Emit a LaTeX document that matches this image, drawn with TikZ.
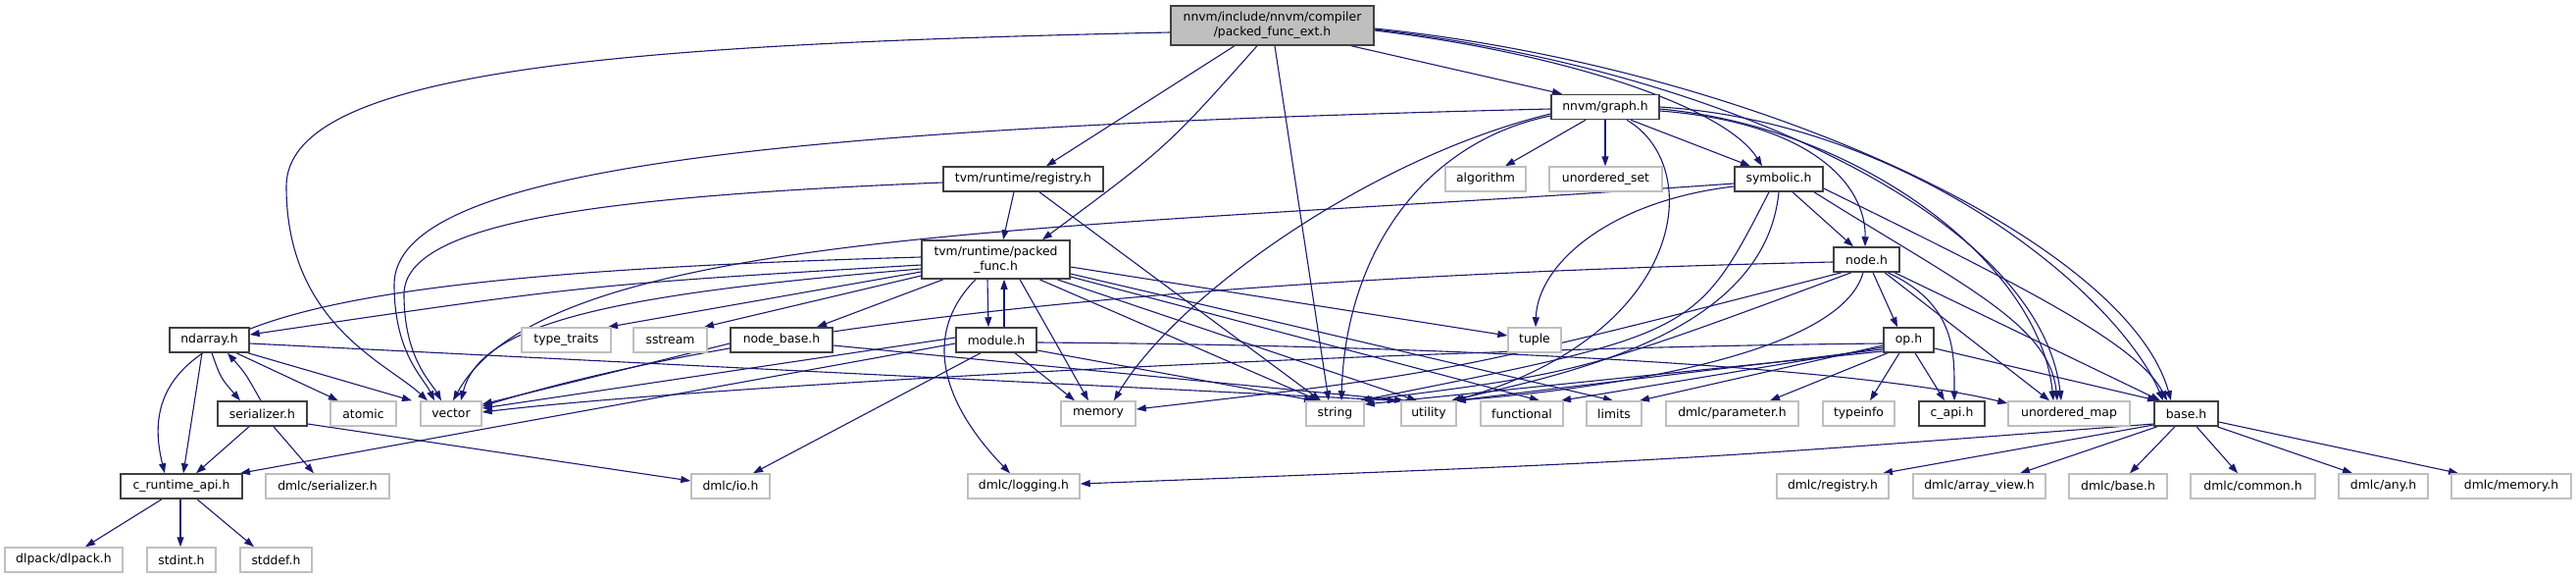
\documentclass[tikz,border=0pt]{standalone}
\usepackage{fontspec}
\setmainfont{DejaVu Sans}
\usetikzlibrary{arrows.meta}
\definecolor{edgec}{HTML}{191970}
\definecolor{extb}{HTML}{BFBFBF}
\definecolor{docb}{HTML}{404040}
\definecolor{rootf}{HTML}{BFBFBF}
\pgfdeclarelayer{bg}
\pgfsetlayers{bg,main}
\newcommand{\nfont}{\fontsize{12.4}{15}\selectfont}
\tikzset{
 hbox/.style={rectangle, inner sep=0pt, minimum height=25pt, line width=1.5pt, fill=white, font=\nfont, text=black, align=center},
 docbox/.style={hbox, draw=docb},
 extbox/.style={hbox, draw=extb},
 rootbox/.style={hbox, draw=docb, fill=rootf, minimum height=40pt},
 dep/.style={draw=edgec, line width=1.1pt, -{Triangle[length=10pt,width=7pt]}},
}
\begin{document}
\begin{tikzpicture}[x=1pt,y=-1pt]
\useasboundingbox (0,0) rectangle (2627,589);
% row 0-3
\node[rootbox, minimum width=207pt] (root) at (1297.5,26) {nnvm/include/nnvm/compiler\\/packed\_func\_ext.h};
\node[docbox, minimum width=110pt] (graph) at (1637,109) {nnvm/graph.h};
\node[docbox, minimum width=163pt] (registry) at (1043.5,182.5) {tvm/runtime/registry.h};
\node[extbox, minimum width=82pt] (algorithm) at (1515,182.5) {algorithm};
\node[extbox, minimum width=115pt] (uset) at (1637.5,182.5) {unordered\_set};
\node[docbox, minimum width=90pt] (symbolic) at (1814,182.5) {symbolic.h};
\node[docbox, minimum width=151pt, minimum height=39pt] (packed) at (1015.5,264.5) {tvm/runtime/packed\\\_func.h};
\node[docbox, minimum width=67pt] (nodeh) at (1903.5,264.5) {node.h};
% row 4
\node[docbox, minimum width=81pt] (ndarray) at (213.5,346.5) {ndarray.h};
\node[extbox, minimum width=91pt] (typetraits) at (577.5,346.5) {type\_traits};
\node[extbox, minimum width=75pt] (sstream) at (683.5,346.5) {sstream};
\node[docbox, minimum width=104pt] (nodebase) at (797,346.5) {node\_base.h};
\node[docbox, minimum width=82pt] (module) at (1016,346.5) {module.h};
\node[extbox, minimum width=54pt] (tuple) at (1565,346.5) {tuple};
\node[docbox, minimum width=51pt] (op) at (1946.5,346.5) {op.h};
% row 5
\node[docbox, minimum width=91pt] (serializer) at (267.5,421.5) {serializer.h};
\node[extbox, minimum width=67pt] (atomic) at (370.5,421.5) {atomic};
\node[extbox, minimum width=62pt] (vector) at (460,421.5) {vector};
\node[extbox, minimum width=76pt] (memory) at (1120,421.5) {memory};
\node[extbox, minimum width=59pt] (string) at (1361.5,421.5) {string};
\node[extbox, minimum width=56pt] (utility) at (1457,421.5) {utility};
\node[extbox, minimum width=84pt] (functional) at (1552,421.5) {functional};
\node[extbox, minimum width=56pt] (limits) at (1646,421.5) {limits};
\node[extbox, minimum width=135pt] (parameter) at (1766.5,421.5) {dmlc/parameter.h};
\node[extbox, minimum width=73pt] (typeinfo) at (1895.5,421.5) {typeinfo};
\node[docbox, minimum width=67pt] (capi) at (1990.5,421.5) {c\_api.h};
\node[extbox, minimum width=124pt] (umap) at (2110,421.5) {unordered\_map};
\node[docbox, minimum width=65pt] (base) at (2229.5,421.5) {base.h};
% row 6
\node[docbox, minimum width=124pt] (crt) at (185,495.5) {c\_runtime\_api.h};
\node[extbox, minimum width=126pt] (dmlcser) at (334,495.5) {dmlc/serializer.h};
\node[extbox, minimum width=80pt] (dmlcio) at (745,495.5) {dmlc/io.h};
\node[extbox, minimum width=114pt] (logging) at (1044,495.5) {dmlc/logging.h};
\node[extbox, minimum width=114pt] (dreg) at (1869,495.5) {dmlc/registry.h};
\node[extbox, minimum width=135pt] (aview) at (2018.5,495.5) {dmlc/array\_view.h};
\node[extbox, minimum width=100pt] (dbase) at (2160,495.5) {dmlc/base.h};
\node[extbox, minimum width=127pt] (dcommon) at (2297.5,495.5) {dmlc/common.h};
\node[extbox, minimum width=91pt] (dany) at (2430.5,495.5) {dmlc/any.h};
\node[extbox, minimum width=122pt] (dmem) at (2561,495.5) {dmlc/memory.h};
% row 7
\node[extbox, minimum width=120pt] (dlpack) at (65,570.5) {dlpack/dlpack.h};
\node[extbox, minimum width=70pt] (stdint) at (185,570.5) {stdint.h};
\node[extbox, minimum width=73pt] (stddef) at (281.5,570.5) {stddef.h};

\begin{pgfonlayer}{bg}
\fill[white] (0,0) rectangle (2627,589);
% root
\draw[dep] (root.west |- 0,33) .. controls (640,45) and (292,70) .. (292,190) .. controls (292,330) and (395,370) .. (vector.north -| 436,0);
\draw[dep] (root.south -| 1259,0) -- (registry.north -| 1067,0);
\draw[dep] (root.south -| 1282,0) .. controls (1190,150) .. (packed.north -| 1063,0);
\draw[dep] (root.south -| 1300,0) -- (string.north -| 1355,0);
\draw[dep] (root.south -| 1378,0) -- (graph.north -| 1593,0);
\draw[dep] (root.east |- 0,31) .. controls (1600,55) and (1760,110) .. (symbolic.north -| 1797,0);
\draw[dep] (root.east |- 0,30) .. controls (1750,70) and (2080,220) .. (umap.north -| 2102,0);
\draw[dep] (root.east |- 0,29) .. controls (1800,70) and (2170,250) .. (base.north -| 2214,0);
% graph
\draw[dep] (graph.south -| 1617,0) -- (algorithm.north -| 1535,0);
\draw[dep] (graph.south -| 1637,0) -- (uset.north -| 1637,0);
\draw[dep] (graph.south -| 1663,0) -- (symbolic.north -| 1785,0);
\draw[dep] (graph.east |- 0,113) .. controls (1850,125) and (1903,190) .. (nodeh.north -| 1902,0);
\draw[dep] (graph.east |- 0,111) .. controls (1900,130) and (2080,270) .. (umap.north -| 2094,0);
\draw[dep] (graph.east |- 0,109) .. controls (1950,125) and (2160,300) .. (base.north -| 2206,0);
\draw[dep] (graph.west |- 0,111) .. controls (800,130) and (402,170) .. (402,290) .. controls (402,360) and (432,385) .. (vector.north -| 443,0);
\draw[dep] (graph.west |- 0,118) .. controls (1450,145) and (1372,260) .. (string.north -| 1368,0);
\draw[dep] (graph.west |- 0,116) .. controls (1400,160) and (1200,300) .. (memory.north -| 1136,0);
\draw[dep] (graph.south -| 1659,0) .. controls (1740,170) and (1720,340) .. (utility.north -| 1483,0);
% registry
\draw[dep] (registry.south -| 1034,0) -- (packed.north -| 1023,0);
\draw[dep] (registry.west |- 0,186) .. controls (620,200) and (412,225) .. (412,300) .. controls (412,365) and (440,390) .. (vector.north -| 450,0);
\draw[dep] (registry.south -| 1060,0) -- (string.north -| 1347,0);
% symbolic
\draw[dep] (symbolic.south -| 1828,0) -- (nodeh.north -| 1890,0);
\draw[dep] (symbolic.west |- 0,190) .. controls (1640,205) and (1568,270) .. (tuple.north -| 1566,0);
\draw[dep] (symbolic.west |- 0,187) .. controls (1100,235) and (560,230) .. (vector.north -| 462,0);
\draw[dep] (symbolic.south -| 1804,0) .. controls (1730,340) .. (string.north -| 1387,0);
\draw[dep] (symbolic.south -| 1814,0) .. controls (1800,340) and (1600,380) .. (utility.north -| 1480,0);
\draw[dep] (symbolic.south -| 1850,0) .. controls (2000,290) and (2090,330) .. (umap.north -| 2098,0);
\draw[dep] (symbolic.east |- 0,192) .. controls (2060,290) and (2180,350) .. (base.north -| 2210,0);
% node.h
\draw[dep] (nodeh.south -| 1910,0) -- (op.north -| 1935,0);
\draw[dep] (nodeh.south -| 1925,0) .. controls (1995,310) and (1993,360) .. (capi.north -| 1993,0);
\draw[dep] (nodeh.south -| 1922,0) -- (umap.north -| 2090,0);
\draw[dep] (nodeh.south -| 1932,0) -- (base.north -| 2203,0);
\draw[dep] (nodeh.west |- 0,267) .. controls (1300,280) and (800,320) .. (vector.east |- 0,414);
\draw[dep] (nodeh.south -| 1878,0) .. controls (1479,380) .. (memory.east |- 0,417);
\draw[dep] (nodeh.south -| 1888,0) .. controls (1612,380) .. (string.north -| 1389,0);
\draw[dep] (nodeh.south -| 1900,0) .. controls (1880,350) and (1700,390) .. (utility.north -| 1485,0);
% op.h
\draw[dep] (op.south -| 1925,0) -- (parameter.north -| 1805,0);
\draw[dep] (op.south -| 1937,0) -- (typeinfo.north -| 1907,0);
\draw[dep] (op.south -| 1953,0) -- (capi.north -| 1983,0);
\draw[dep] (op.east |- 0,355) -- (base.north -| 2200,0);
\draw[dep] (op.west |- 0,352) -- (limits.north -| 1672,0);
\draw[dep] (op.west |- 0,354) -- (functional.north -| 1592,0);
\draw[dep] (op.west |- 0,356) -- (utility.north -| 1484,0);
\draw[dep] (op.west |- 0,358) -- (string.east |- 0,412);
\draw[dep] (op.west |- 0,350) .. controls (1400,355) and (700,395) .. (vector.east |- 0,420);
% packed_func.h
\draw[dep] (packed.south -| 1007,0) -- (module.north -| 1008,0);
\draw[dep] (packed.south -| 962,0) -- (nodebase.north -| 833,0);
\draw[dep] (packed.west |- 0,281) -- (sstream.north -| 718,0);
\draw[dep] (packed.west |- 0,277) -- (typetraits.north -| 620,0);
\draw[dep] (packed.west |- 0,270) .. controls (600,290) .. (ndarray.east |- 0,341);
\draw[dep] (packed.west |- 0,274) .. controls (620,300) and (490,330) .. (vector.north -| 470,0);
\draw[dep] (packed.west |- 0,262) .. controls (300,280) and (130,330) .. (crt.north -| 168,0);
\draw[dep] (packed.south -| 995,0) .. controls (940,340) and (960,410) .. (logging.north -| 1030,0);
\draw[dep] (packed.south -| 1040,0) -- (memory.north -| 1110,0);
\draw[dep] (packed.south -| 1060,0) -- (string.north -| 1345,0);
\draw[dep] (packed.south -| 1078,0) -- (utility.north -| 1445,0);
\draw[dep] (packed.east |- 0,282) -- (functional.north -| 1570,0);
\draw[dep] (packed.east |- 0,279) -- (limits.north -| 1645,0);
\draw[dep] (packed.east |- 0,272) -- (tuple.west |- 0,342);
% module.h
\draw[dep] (module.north -| 1024,0) -- (packed.south -| 1024,0);
\draw[dep] (module.west |- 0,344) -- (vector.east |- 0,416);
\draw[dep] (module.west |- 0,350) -- (crt.north -| 245,0);
\draw[dep] (module.south -| 1000,0) -- (dmlcio.north -| 768,0);
\draw[dep] (module.south -| 1035,0) -- (memory.north -| 1096,0);
\draw[dep] (module.east |- 0,357) -- (string.north -| 1340,0);
\draw[dep] (module.east |- 0,349) .. controls (1500,352) and (1900,375) .. (umap.west |- 0,411);
% node_base.h
\draw[dep] (nodebase.west |- 0,350) -- (vector.east |- 0,412);
\draw[dep] (nodebase.east |- 0,352) -- (utility.north -| 1432,0);
% ndarray.h
\draw[dep] (ndarray.south -| 216,0) .. controls (225,385) .. (serializer.north -| 245,0);
\draw[dep] (serializer.north -| 266,0) .. controls (250,380) .. (ndarray.south -| 232,0);
\draw[dep] (ndarray.south -| 206,0) -- (crt.north -| 187,0);
\draw[dep] (ndarray.south -| 241,0) -- (atomic.north -| 345,0);
\draw[dep] (ndarray.south -| 253,0) -- (vector.north -| 420,0);
\draw[dep] (ndarray.east |- 0,350) -- (utility.north -| 1425,0);
% serializer.h
\draw[dep] (serializer.south -| 254,0) -- (crt.north -| 200,0);
\draw[dep] (serializer.south -| 279,0) -- (dmlcser.north -| 320,0);
\draw[dep] (serializer.east |- 0,432) -- (dmlcio.west |- 0,490);
% c_runtime_api.h
\draw[dep] (crt.south -| 165,0) -- (dlpack.north -| 87,0);
\draw[dep] (crt.south -| 184,0) -- (stdint.north -| 184,0);
\draw[dep] (crt.south -| 201,0) -- (stddef.north -| 259,0);
% base.h
\draw[dep] (base.west |- 0,432) .. controls (1700,470) .. (logging.east |- 0,493);
\draw[dep] (base.west |- 0,433) -- (dreg.north -| 1920,0);
\draw[dep] (base.south -| 2200,0) -- (aview.north -| 2060,0);
\draw[dep] (base.south -| 2218,0) -- (dbase.north -| 2172,0);
\draw[dep] (base.south -| 2240,0) -- (dcommon.north -| 2282,0);
\draw[dep] (base.south -| 2261,0) -- (dany.north -| 2399,0);
\draw[dep] (base.east |- 0,430) -- (dmem.north -| 2507,0);
\end{pgfonlayer}
\end{tikzpicture}
\end{document}
